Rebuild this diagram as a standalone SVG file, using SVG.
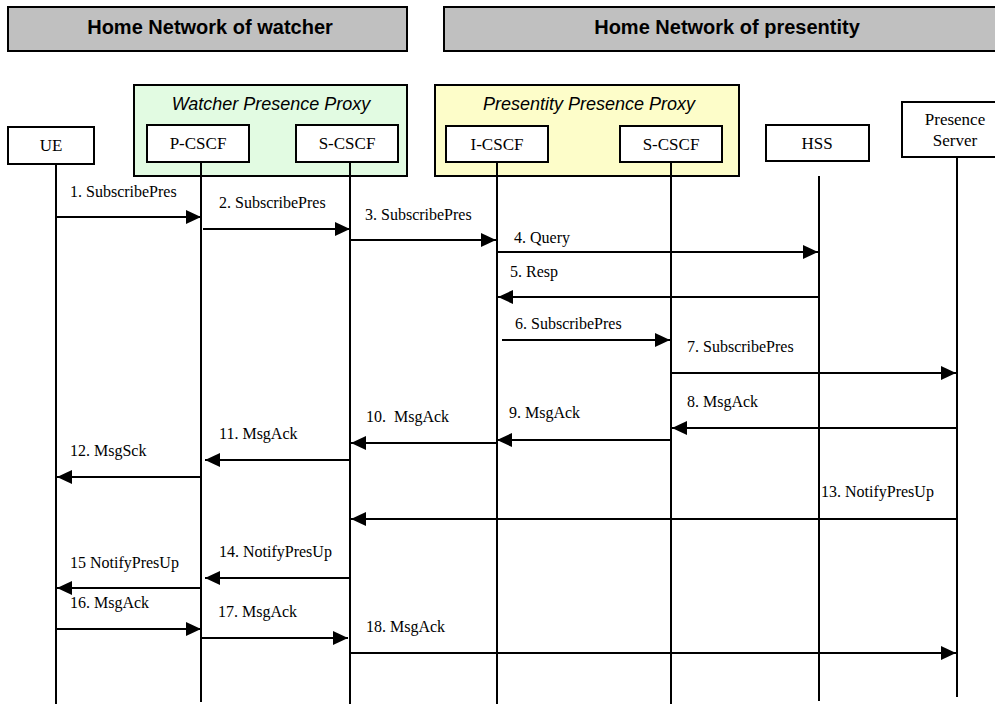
<svg xmlns="http://www.w3.org/2000/svg" width="995" height="704" viewBox="0 0 995 704">
<style>
.hdr{fill:#c0c0c0;stroke:#000;stroke-width:2}
.hdrt{font-family:"Liberation Sans",Arial,sans-serif;font-weight:bold;font-size:20px;fill:#000;text-anchor:middle}
.prx-w{fill:#e2fbe2;stroke:#000;stroke-width:2}
.prx-p{fill:#fdfdc9;stroke:#000;stroke-width:2}
.prxt{font-family:"Liberation Sans",Arial,sans-serif;font-style:italic;font-size:18px;fill:#000;text-anchor:middle}
.box{fill:#fff;stroke:#000;stroke-width:2}
.boxt{font-family:"Liberation Serif","Times New Roman",serif;font-size:17px;fill:#000;text-anchor:middle}
.life{stroke:#000;stroke-width:2;fill:none}
.msg{stroke:#000;stroke-width:2;fill:none;marker-end:url(#ah)}
.lbl{font-family:"Liberation Serif","Times New Roman",serif;font-size:16px;fill:#000}
</style>
<defs>
<marker id="ah" markerUnits="userSpaceOnUse" markerWidth="15" markerHeight="14" refX="15" refY="7" orient="auto">
<path d="M0,0 L15,7 L0,14 z" fill="#000"/>
</marker>
</defs>
<rect width="995" height="704" fill="#fff"/>

<g id="header-watcher">
<rect class="hdr" x="8" y="7" width="399" height="44"/>
<text class="hdrt" x="210" y="34">Home Network of watcher</text>
</g>
<g id="header-presentity">
<rect class="hdr" x="444" y="7" width="560" height="44"/>
<text class="hdrt" x="727" y="34">Home Network of presentity</text>
</g>

<g id="watcher-proxy">
<rect class="prx-w" x="134" y="85" width="273" height="91"/>
<text class="prxt" x="271" y="110">Watcher Presence Proxy</text>
</g>
<g id="presentity-proxy">
<rect class="prx-p" x="435" y="85" width="304" height="91"/>
<text class="prxt" x="589" y="110">Presentity Presence Proxy</text>
</g>

<g id="ue">
<rect class="box" x="8" y="127" width="86" height="37"/>
<text class="boxt" x="51" y="151">UE</text>
<line class="life" x1="56" y1="164" x2="56" y2="704"/>
</g>
<g id="p-cscf">
<rect class="box" x="147" y="125" width="102" height="37"/>
<text class="boxt" x="198" y="149">P-CSCF</text>
<line class="life" x1="201" y1="162" x2="201" y2="702"/>
</g>
<g id="s-cscf-watcher">
<rect class="box" x="296" y="125" width="102" height="37"/>
<text class="boxt" x="347" y="149">S-CSCF</text>
<line class="life" x1="350" y1="162" x2="350" y2="704"/>
</g>
<g id="i-cscf">
<rect class="box" x="446" y="126" width="102" height="36"/>
<text class="boxt" x="497" y="150">I-CSCF</text>
<line class="life" x1="497" y1="162" x2="497" y2="704"/>
</g>
<g id="s-cscf-presentity">
<rect class="box" x="620" y="126" width="102" height="36"/>
<text class="boxt" x="671" y="150">S-CSCF</text>
<line class="life" x1="671" y1="162" x2="671" y2="704"/>
</g>
<g id="hss">
<rect class="box" x="766" y="125" width="103" height="36"/>
<text class="boxt" x="817" y="149">HSS</text>
<line class="life" x1="819" y1="176" x2="819" y2="701"/>
</g>
<g id="presence-server">
<rect class="box" x="902" y="102" width="106" height="55"/>
<text class="boxt" x="955" y="125">Presence</text>
<text class="boxt" x="955" y="146">Server</text>
<line class="life" x1="957" y1="157" x2="957" y2="697"/>
</g>

<g id="connectors">
<line class="msg" x1="56" y1="217" x2="201" y2="217"/>
<text class="lbl" x="70" y="197">1. SubscribePres</text>
<line class="msg" x1="203" y1="229" x2="350" y2="229"/>
<text class="lbl" x="219" y="208">2. SubscribePres</text>
<line class="msg" x1="350" y1="240" x2="496" y2="240"/>
<text class="lbl" x="365" y="220">3. SubscribePres</text>
<line class="msg" x1="497" y1="252" x2="818" y2="252"/>
<text class="lbl" x="514" y="243">4. Query</text>
<line class="msg" x1="819" y1="297" x2="498" y2="297"/>
<text class="lbl" x="510" y="277">5. Resp</text>
<line class="msg" x1="502" y1="340" x2="670" y2="340"/>
<text class="lbl" x="515" y="329">6. SubscribePres</text>
<line class="msg" x1="671" y1="373" x2="956" y2="373"/>
<text class="lbl" x="687" y="352">7. SubscribePres</text>
<line class="msg" x1="956" y1="428" x2="672" y2="428"/>
<text class="lbl" x="687" y="407">8. MsgAck</text>
<line class="msg" x1="671" y1="440" x2="497" y2="440"/>
<text class="lbl" x="509" y="418">9. MsgAck</text>
<line class="msg" x1="497" y1="443" x2="351" y2="443"/>
<text class="lbl" x="366" y="422" xml:space="preserve">10.  MsgAck</text>
<line class="msg" x1="350" y1="460" x2="205" y2="460"/>
<text class="lbl" x="219" y="439">11. MsgAck</text>
<line class="msg" x1="201" y1="477" x2="57" y2="477"/>
<text class="lbl" x="70" y="456">12. MsgSck</text>
<line class="msg" x1="957" y1="519" x2="351" y2="519"/>
<text class="lbl" x="821" y="497">13. NotifyPresUp</text>
<line class="msg" x1="350" y1="578" x2="205" y2="578"/>
<text class="lbl" x="219" y="557">14. NotifyPresUp</text>
<line class="msg" x1="201" y1="588" x2="57" y2="588"/>
<text class="lbl" x="70" y="568">15 NotifyPresUp</text>
<line class="msg" x1="56" y1="629" x2="201" y2="629"/>
<text class="lbl" x="70" y="608">16. MsgAck</text>
<line class="msg" x1="201" y1="638" x2="348" y2="638"/>
<text class="lbl" x="218" y="617">17. MsgAck</text>
<line class="msg" x1="350" y1="653" x2="956" y2="653"/>
<text class="lbl" x="366" y="632">18. MsgAck</text>
</g>
</svg>
